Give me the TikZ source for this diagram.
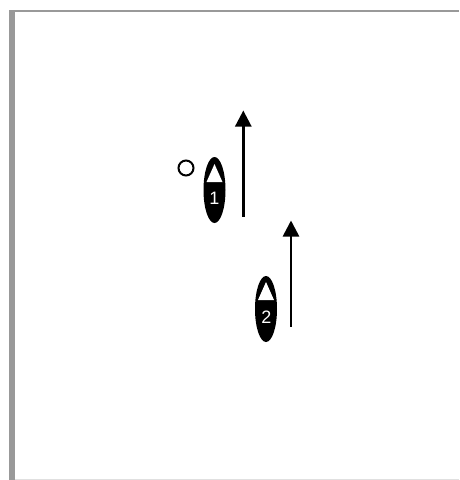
\documentclass[tikz,border=0pt]{standalone}
\usepackage{xcolor}
\usepackage{fontspec}
\setmainfont{Liberation Sans}
\usetikzlibrary{arrows.meta,shapes.geometric}
\definecolor{framegray}{gray}{0.6}
\tikzset{
  hull/.style={ellipse,fill=black,minimum width=22,minimum height=66,inner sep=0pt},
  boatnum/.style={text=white,font=\fontsize{18}{18}\selectfont,inner sep=0pt},
  heading/.style={-{Triangle[length=16,width=16]},line width=2.6pt,black},
  buoymark/.style={circle,draw=black,line width=2pt,minimum size=15,inner sep=0pt}
}
\begin{document}
\begin{tikzpicture}[x=1pt,y=-1pt]
  \useasboundingbox (0,0) rectangle (459,480);
  \fill[framegray] (9,10) rectangle (15,480);
  \fill[framegray] (9,9.5) rectangle (459,11.5);
  \fill[black!12] (15,478.5) rectangle (459,480);
  \node[hull] (boata) at (214.5,190) {};
  \fill[white] (206.5,182) -- (214.5,164) -- (222.5,182) -- cycle;
  \node[boatnum] (numa) at (214.5,198) {1};
  \node[hull] (boatb) at (266,309) {};
  \fill[white] (258,300) -- (266,282) -- (274,300) -- cycle;
  \node[boatnum] (numb) at (266.5,317.5) {2};
  \node[buoymark] (buoy) at (186,168) {};
  \coordinate (taila) at (243.3,216.5);
  \coordinate (tipa) at (243.3,110.5);
  \coordinate (tailb) at (291,326.5);
  \coordinate (tipb) at (291,220.5);
  \draw[heading] (taila) -- (tipa);
  \draw[heading] (tailb) -- (tipb);
\end{tikzpicture}
\end{document}
